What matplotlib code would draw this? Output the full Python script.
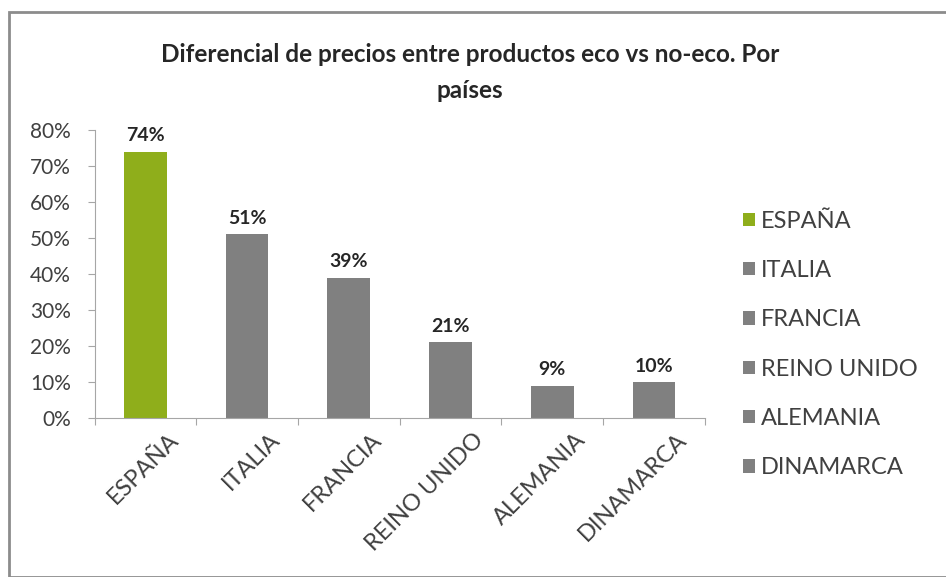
import matplotlib
matplotlib.use("Agg")
from matplotlib import pyplot as plt
from matplotlib.patches import Rectangle, Patch
from matplotlib.transforms import offset_copy
import numpy as np

plt.rcParams['font.family'] = ['Lato', 'DejaVu Sans']

countries = ["ESPAÑA", "ITALIA", "FRANCIA", "REINO UNIDO", "ALEMANIA", "DINAMARCA"]
diffs = [74, 51, 39, 21, 9, 10]
bar_colors = ["#8fae1b", "#808080", "#808080", "#808080", "#808080", "#808080"]
y_ticks = [0, 10, 20, 30, 40, 50, 60, 70, 80]

fig = plt.figure(figsize=(9.46, 5.77), dpi=100)
fig.patches.append(Rectangle((0.009, 0.0), 0.995, 0.979, transform=fig.transFigure,
                             fill=False, edgecolor="#8c8c8c", lw=2.0))
ax = fig.add_axes([0.100, 0.2756, 0.645, 0.499])

x = np.arange(len(countries))
bars = ax.bar(x, diffs, width=0.42, color=bar_colors)

for xi, v in zip(x, diffs):
    ax.text(xi, v + 2.0, f"{v}%", ha="center", va="bottom",
            fontsize=14, fontweight="bold", color="#262626")

ax.set_xlim(-0.5, len(countries) - 0.5)
ax.set_ylim(0, 80)
ax.set_yticks(y_ticks)
ax.set_yticklabels([f"{t}%" for t in y_ticks], fontsize=15, color="#404040")
ax.set_xticks(np.arange(len(countries) + 1) - 0.5)
ax.set_xticklabels([])
ax.tick_params(axis="y", direction="out", length=5, color="#a6a6a6", pad=12)
ax.tick_params(axis="x", direction="out", length=5, color="#a6a6a6")

for s in ["top", "right"]:
    ax.spines[s].set_visible(False)
for s in ["left", "bottom"]:
    ax.spines[s].set_color("#a6a6a6")

trans = offset_copy(ax.transData, fig=fig, x=16, y=-8, units="points")
for xi, name in zip(x, countries):
    ax.text(xi, 0, name, rotation=45, ha="right", va="top",
            rotation_mode="anchor", fontsize=17, color="#404040",
            transform=trans)

fig.text(0.497, 0.905, "Diferencial de precios entre productos eco vs no-eco. Por",
         ha="center", va="center", fontsize=17.5, fontweight="bold", color="#262626")
fig.text(0.497, 0.843, "países", ha="center", va="center",
         fontsize=17.5, fontweight="bold", color="#262626")

handles = [Patch(facecolor=c, edgecolor="none") for c in bar_colors]
fig.legend(handles, countries, loc="center left", bbox_to_anchor=(0.763, 0.403),
           frameon=False, fontsize=17, labelcolor="#404040",
           handlelength=0.5, handleheight=0.5, handletextpad=0.25,
           labelspacing=1.2)

fig.savefig("out.png", dpi=100)
